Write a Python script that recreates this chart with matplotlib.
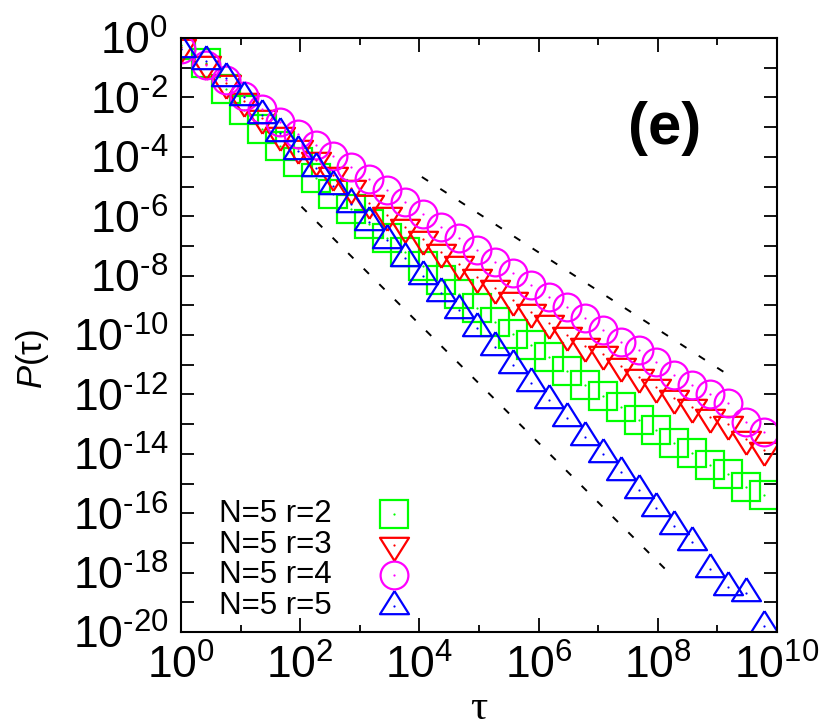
import numpy as np
import matplotlib
matplotlib.use("Agg")
import matplotlib.pyplot as plt
from matplotlib.ticker import FixedLocator, FixedFormatter, NullFormatter

plt.rcParams["font.family"] = ["Liberation Sans", "DejaVu Sans"]
plt.rcParams["mathtext.fontset"] = "custom"
plt.rcParams["mathtext.rm"] = "Liberation Sans"
plt.rcParams["mathtext.it"] = "Liberation Sans:italic"

# waiting times (log-binned), shared by all series
tau = [1, 2.6, 5.6, 11.3, 22.6, 45.3, 90.5, 181, 362, 724,
       1.45e3, 2.90e3, 5.79e3, 1.16e4, 2.32e4, 4.63e4, 9.27e4, 1.85e5, 3.71e5, 7.42e5,
       1.48e6, 2.97e6, 5.93e6, 1.19e7, 2.37e7, 4.75e7, 9.49e7, 1.90e8, 3.80e8, 7.59e8,
       1.52e9, 3.04e9, 6.07e9]

# log10 P(tau)
logP_r2 = [-0.22, -0.85, -1.72, -2.44, -3.05, -3.62, -4.18, -4.72, -5.25, -5.75,
           -6.25, -6.72, -7.20, -7.68, -8.15, -8.62, -9.10, -9.57, -9.96, -10.35,
           -10.75, -11.20, -11.68, -12.04, -12.41, -12.86, -13.20, -13.64, -13.98, -14.38,
           -14.68, -15.12, -15.39]
logP_r3 = [-0.30, -0.89, -1.50, -2.12, -2.71, -3.25, -3.72, -4.12, -4.60, -5.05,
           -5.55, -5.95, -6.35, -6.78, -7.20, -7.61, -8.06, -8.43, -8.82, -9.22,
           -9.61, -10.00, -10.37, -10.63, -11.04, -11.40, -11.74, -12.13, -12.41, -12.77,
           -13.00, -13.51, -13.87]
logP_r4 = [-0.38, -0.90, -1.42, -1.95, -2.40, -2.82, -3.22, -3.60, -3.97, -4.33,
           -4.75, -5.12, -5.53, -5.93, -6.38, -6.74, -7.14, -7.53, -7.92, -8.32,
           -8.71, -9.05, -9.44, -9.83, -10.22, -10.52, -10.92, -11.36, -11.70, -12.00,
           -12.30, -12.92, -13.28]
logP_r5 = [-0.38, -0.77, -1.36, -1.98, -2.59, -3.19, -3.80, -4.38, -4.98, -5.58,
           -6.18, -6.80, -7.40, -8.00, -8.59, -9.17, -9.78, -10.40, -11.01, -11.60,
           -12.20, -12.80, -13.42, -14.02, -14.62, -15.23, -15.83, -16.43, -16.97, -17.87,
           -18.47, -18.70, -19.80]

labels = ["N=5 r=2", "N=5 r=3", "N=5 r=4", "N=5 r=5"]
colors = ["#00ff00", "#ff0000", "#ff00ff", "#0000ff"]

# guide lines (dashed), end points
guide_tau = [[1.1e4, 1.86e9], [1.05e2, 1.8e8]]
guide_P = [[2.1e-5, 3.5e-12], [2.1e-6, 7.2e-19]]

# gnuplot-like triangles centred on their centroid (sizes in points)
w, h = 20.9, 16.6
tri_up = [(0, 2 * h / 3), (-w / 2, -h / 3), (w / 2, -h / 3), (0, 2 * h / 3)]
tri_dn = [(0, -2 * h / 3), (-w / 2, h / 3), (w / 2, h / 3), (0, -2 * h / 3)]
tri_ms = 2 * max(abs(c) for v in tri_up for c in v)

markers = [("s", 19.5), (tri_dn, tri_ms), ("o", 20), (tri_up, tri_ms)]


def pow_label(k):
    # gnuplot prints a plain hyphen in the exponent
    return r"10$^{\text{-}%d}$" % -k if k < 0 else r"10$^{%d}$" % k


fig = plt.figure(figsize=(8.3, 7.27), dpi=100)
ax = fig.add_axes([181 / 830, 1 - 632 / 727, 596 / 830, 594 / 727])

series = [logP_r2, logP_r3, logP_r4, logP_r5]
for lp, (mk, ms), c in zip(series, markers, colors):
    P = 10.0 ** np.array(lp)
    ax.plot(tau, P, ls="none", marker=mk, ms=ms, mfc="none", mec=c, mew=1.6)
    ax.plot(tau, P, ls="none", marker="o", ms=1.6, mfc=c, mec="none")

for gt, gp in zip(guide_tau, guide_P):
    ax.plot(gt, gp, color="black", lw=1.4, dashes=(3.8, 7.5))

ax.set_xscale("log")
ax.set_yscale("log")
ax.set_xlim(1, 1e10)
ax.set_ylim(1e-20, 1)

xt = [10.0 ** k for k in range(0, 11, 2)]
ax.xaxis.set_major_locator(FixedLocator(xt))
ax.xaxis.set_major_formatter(FixedFormatter([pow_label(k) for k in range(0, 11, 2)]))
ax.xaxis.set_minor_locator(FixedLocator([10.0 ** k for k in range(1, 10, 2)]))
ax.xaxis.set_minor_formatter(NullFormatter())

yt = [10.0 ** -k for k in range(0, 21)]
ax.yaxis.set_major_locator(FixedLocator(yt))
ax.yaxis.set_major_formatter(FixedFormatter(
    [pow_label(-k) if k % 2 == 0 else "" for k in range(0, 21)]))
ax.yaxis.set_minor_locator(FixedLocator([]))

ax.tick_params(which="both", direction="in", top=True, right=True, width=1.3,
               labelsize=32)
ax.tick_params(axis="x", which="major", length=10, pad=9)
ax.tick_params(axis="x", which="minor", length=5)
ax.tick_params(axis="y", which="major", length=9.5, pad=9)
for sp in ax.spines.values():
    sp.set_linewidth(1.5)

ax.text(0.5, -0.146, "τ", transform=ax.transAxes, fontsize=31,
        family="Liberation Serif", ha="center", va="baseline")
ax.text(-0.25, 0.46, r"$\mathit{P}$(τ)", transform=ax.transAxes, fontsize=25,
        rotation=90, ha="center", va="center")

ax.text(0.812, 0.848, "(e)", transform=ax.transAxes, fontsize=43, fontweight="bold",
        ha="center", va="center")

# legend drawn by hand, gnuplot style (text right-justified, sample to the right)
for i, (lab, (mk, ms), c) in enumerate(zip(labels, markers, colors)):
    yy = 1 - (514 + 30.6 * i - 38) / 594
    xx = (394 - 181) / 596
    ax.text((332 - 181) / 596, yy, lab, transform=ax.transAxes, fontsize=22.5,
            ha="right", va="center")
    ax.plot([xx], [yy], transform=ax.transAxes, ls="none", marker=mk, ms=ms,
            mfc="none", mec=c, mew=1.6, clip_on=False)
    ax.plot([xx], [yy], transform=ax.transAxes, ls="none", marker="o", ms=1.6,
            mfc=c, mec="none", clip_on=False)

fig.savefig("out.png", dpi=100)
